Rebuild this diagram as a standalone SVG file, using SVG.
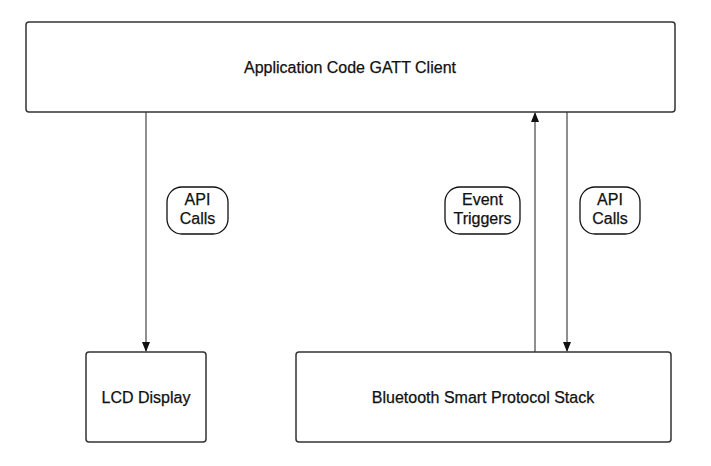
<svg xmlns="http://www.w3.org/2000/svg" width="711" height="466" viewBox="0 0 711 466">
<style>
.box{fill:#fff;stroke:#333;stroke-width:1.5}
.pill{fill:#fff;stroke:#111;stroke-width:1.3}
.t{font-family:"Liberation Sans",Arial,sans-serif;font-size:16px;fill:#111;stroke:#111;stroke-width:0.25;text-anchor:middle}
.c{stroke:#444;stroke-width:1.2;fill:none}
</style>
<defs>
<marker id="ah" markerWidth="10" markerHeight="12" refX="9" refY="5" orient="auto" markerUnits="userSpaceOnUse">
<path d="M0,1 L10,5 L0,9 Z" fill="#111"/>
</marker>
</defs>
<rect width="711" height="466" fill="#fff"/>
<g id="connectors">
<line class="c" x1="146" y1="112" x2="146" y2="351" marker-end="url(#ah)"/>
<line class="c" x1="535" y1="352" x2="535" y2="113" marker-end="url(#ah)"/>
<line class="c" x1="567" y1="112" x2="567" y2="351" marker-end="url(#ah)"/>
</g>
<g id="app">
<rect class="box" x="26" y="22" width="649" height="90" rx="3"/>
<text class="t" x="350" y="73">Application Code GATT Client</text>
</g>
<g id="lcd">
<rect class="box" x="86" y="352" width="120" height="90" rx="3"/>
<text class="t" x="146" y="403">LCD Display</text>
</g>
<g id="ble">
<rect class="box" x="296" y="352" width="375" height="90" rx="3"/>
<text class="t" x="483" y="403">Bluetooth Smart Protocol Stack</text>
</g>
<g id="label-api1">
<rect class="pill" x="167" y="187" width="61" height="47" rx="15"/>
<text class="t" x="197.5" y="205">API</text>
<text class="t" x="197.5" y="224">Calls</text>
</g>
<g id="label-event">
<rect class="pill" x="445" y="187" width="75" height="47" rx="15"/>
<text class="t" x="482.5" y="205">Event</text>
<text class="t" x="482.5" y="224">Triggers</text>
</g>
<g id="label-api2">
<rect class="pill" x="580" y="187" width="60" height="47" rx="15"/>
<text class="t" x="610" y="205">API</text>
<text class="t" x="610" y="224">Calls</text>
</g>
</svg>
